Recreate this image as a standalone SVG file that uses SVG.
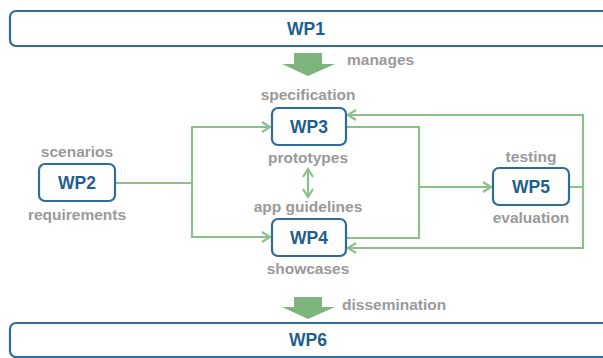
<svg xmlns="http://www.w3.org/2000/svg" width="603" height="358" viewBox="0 0 603 358">
<style>
.box{fill:#fff;stroke:#2d6c9b;stroke-width:2.2}
.lbl{font-family:"Liberation Sans",Arial,sans-serif;font-weight:bold;font-size:17.5px;fill:#1f5f8e;text-anchor:middle}
.cap{font-family:"Liberation Sans",Arial,sans-serif;font-weight:bold;font-size:15.5px;fill:#9a9a9a;text-anchor:middle}
.capl{font-family:"Liberation Sans",Arial,sans-serif;font-weight:bold;font-size:15.5px;fill:#9a9a9a}
.ln{fill:none;stroke:#8cc08b;stroke-width:2.2}
.big{fill:#7db57c}
</style>
<defs>
<marker id="ah" viewBox="0 0 12 12" refX="10" refY="6" markerWidth="12" markerHeight="12" markerUnits="userSpaceOnUse" orient="auto-start-reverse">
<path d="M2,1 L10,6 L2,11" fill="none" stroke="#8cc08b" stroke-width="2.2"/>
</marker>
</defs>
<rect width="603" height="358" fill="#fff"/>
<g id="connectors">
<path class="ln" d="M115,183 H192 V127 H270" marker-end="url(#ah)"/>
<path class="ln" d="M192,183 V237 H270" marker-end="url(#ah)"/>
<path class="ln" d="M347,127 H419 V238 H347"/>
<path class="ln" d="M419,187 H491" marker-end="url(#ah)"/>
<path class="ln" d="M569,187 H583 V115 H348" marker-end="url(#ah)"/>
<path class="ln" d="M583,187 V248 H348" marker-end="url(#ah)"/>
<path class="ln" d="M308,169 V197" marker-start="url(#ah)" marker-end="url(#ah)"/>
<path class="big" d="M294,53 H322 V64 H335 L308,76 L282,64 H294 Z"/>
<text class="capl" x="347" y="65">manages</text>
<path class="big" d="M294,297 H322 V307 H335 L308,319 L282,307 H294 Z"/>
<text class="capl" x="342" y="310">dissemination</text>
</g>
<g id="WP1">
<rect class="box" x="10" y="11" width="615" height="35" rx="6"/>
<text class="lbl" x="306" y="35">WP1</text>
</g>
<g id="WP2">
<text class="cap" x="77" y="157">scenarios</text>
<rect class="box" x="39" y="164" width="76" height="37" rx="6"/>
<text class="lbl" x="77" y="189">WP2</text>
<text class="cap" x="77" y="220">requirements</text>
</g>
<g id="WP3">
<text class="cap" x="308" y="100">specification</text>
<rect class="box" x="272" y="108" width="74" height="37" rx="6"/>
<text class="lbl" x="309" y="133">WP3</text>
<text class="cap" x="308" y="163">prototypes</text>
</g>
<g id="WP4">
<text class="cap" x="308" y="212">app guidelines</text>
<rect class="box" x="272" y="219" width="74" height="37" rx="6"/>
<text class="lbl" x="309" y="244">WP4</text>
<text class="cap" x="308" y="274">showcases</text>
</g>
<g id="WP5">
<text class="cap" x="531" y="162">testing</text>
<rect class="box" x="493" y="168" width="76" height="37" rx="6"/>
<text class="lbl" x="531" y="193">WP5</text>
<text class="cap" x="531" y="223">evaluation</text>
</g>
<g id="WP6">
<rect class="box" x="10" y="323" width="615" height="34" rx="6"/>
<text class="lbl" x="308" y="346">WP6</text>
</g>
</svg>
